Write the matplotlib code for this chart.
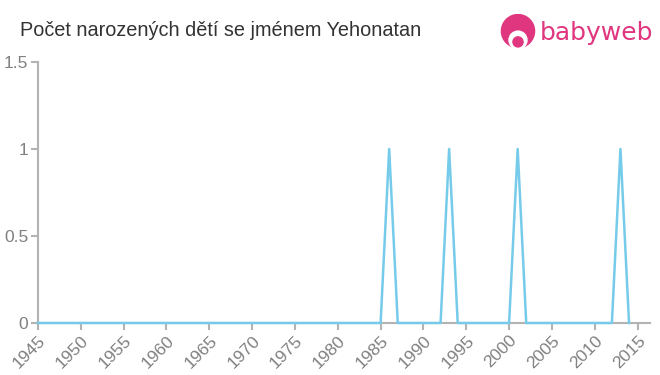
import matplotlib.pyplot as plt
import numpy as np
from matplotlib.patches import Circle

plt.rcParams['font.family'] = ['Liberation Sans', 'DejaVu Sans']

# data
years = list(range(1945, 2015))
counts = [0] * len(years)
for y in [1986, 1993, 2001, 2013]:
    counts[years.index(y)] = 1

xticks = list(range(1945, 2016, 5))
yticks = [0, 0.5, 1, 1.5]
ylabels = ["0", "0.5", "1", "1.5"]

W, H = 660, 375
fig = plt.figure(figsize=(W/100, H/100), dpi=100)
ax = fig.add_axes([38/W, 1-323/H, (650-38)/W, (323-62)/H])

ax.plot(years, counts, color="#76cbea", lw=1.8, clip_on=False, zorder=3)

ax.set_xlim(1945, 2016.45)
ax.set_ylim(0, 1.5)
ax.set_xticks(xticks)
ax.set_xticklabels([str(x) for x in xticks], rotation=45, ha="right", rotation_mode="anchor")
ax.set_yticks(yticks)
ax.set_yticklabels(ylabels)

for s in ["top", "right"]:
    ax.spines[s].set_visible(False)
for s in ["left", "bottom"]:
    ax.spines[s].set_color("#b3b3b3")
    ax.spines[s].set_linewidth(1.5)
ax.tick_params(colors="#b3b3b3", labelcolor="#808080", labelsize=12.5, length=5, width=1.5, pad=2)

fig.text(20/W, 1-31/H, "Počet narozených dětí se jménem Yehonatan",
         fontsize=14.3, color="#333333", va="center", ha="left")

# logo
pink = "#e0367f"
lax = fig.add_axes([500/W, 1-50/H, 36/W, 36/H])
lax.set_xlim(-1, 1)
lax.set_ylim(-1, 1)
lax.set_aspect("equal")
lax.axis("off")
lax.add_patch(Circle((0, 0.05), 0.92, color=pink))
lax.add_patch(Circle((0, -0.45), 0.5, color="white"))
lax.add_patch(Circle((0, -0.55), 0.28, color=pink))
fig.text(540/W, 1-33/H, "babyweb", fontsize=18, color=pink,
         va="center", ha="left", family="DejaVu Sans")

fig.savefig("out.png", dpi=100)
